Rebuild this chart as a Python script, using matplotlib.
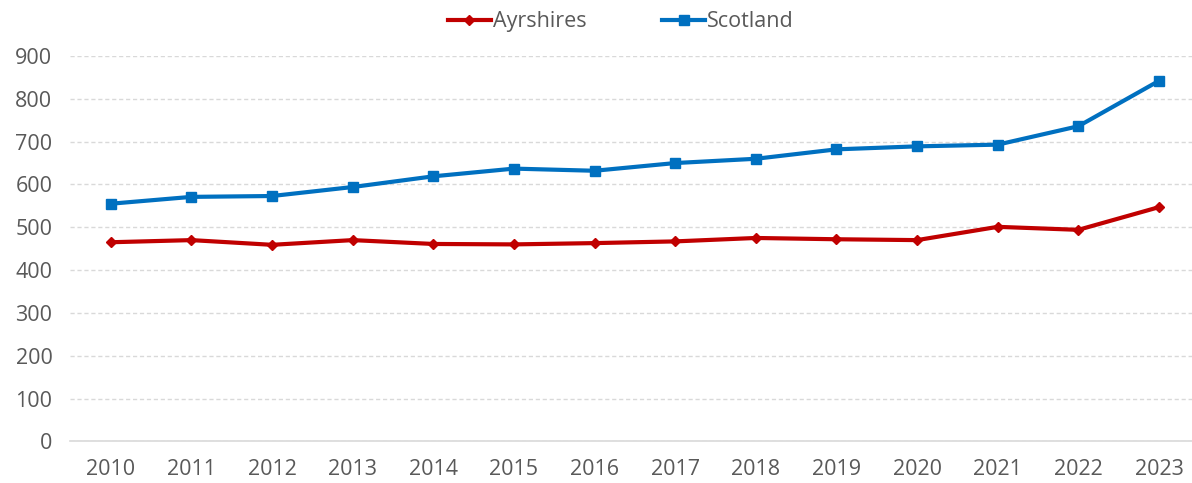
import matplotlib.pyplot as plt

# datos
years = ['2010', '2011', '2012', '2013', '2014', '2015', '2016',
         '2017', '2018', '2019', '2020', '2021', '2022', '2023']
ayrshires = [465, 470, 459, 470, 461, 460, 463, 467, 475, 472, 470, 501, 494, 547]
scotland = [555, 571, 573, 594, 619, 637, 632, 650, 660, 682, 689, 693, 736, 842]
yticks = [0, 100, 200, 300, 400, 500, 600, 700, 800, 900]

plt.rcParams['font.family'] = ['Open Sans', 'DejaVu Sans']
gris = '#595959'

fig = plt.figure(figsize=(11.92, 4.83), dpi=100)
ax = fig.add_axes([0.0591, 0.0863, 0.947, 0.7977])

x = list(range(len(years)))
ax.plot(x, ayrshires, color='#C00000', lw=3, marker='D', markersize=5,
        label='Ayrshires')
ax.plot(x, scotland, color='#0070C0', lw=3, marker='s', markersize=7.7,
        label='Scotland')

ax.set_xlim(-0.5, len(years) - 0.5)
ax.set_ylim(0, 900)
ax.set_xticks(x)
ax.set_xticklabels(years)
ax.set_yticks(yticks)

ax.grid(axis='y', color='#D9D9D9', linestyle=(0, (3, 2)), lw=1)
ax.set_axisbelow(True)
for s in ['top', 'right', 'left']:
    ax.spines[s].set_visible(False)
ax.spines['bottom'].set_color('#D9D9D9')
ax.spines['bottom'].set_linewidth(1.2)
ax.tick_params(axis='both', length=0, labelsize=15.5, colors=gris)
ax.tick_params(axis='x', pad=13)
ax.tick_params(axis='y', pad=13)

leg = fig.legend(loc='center', bbox_to_anchor=(0.521, 0.955), ncol=2,
                 frameon=False, fontsize=15.5, handlelength=2.0,
                 handletextpad=0.1, columnspacing=3.5)
for t in leg.get_texts():
    t.set_color(gris)

fig.savefig('out.png', dpi=100)
